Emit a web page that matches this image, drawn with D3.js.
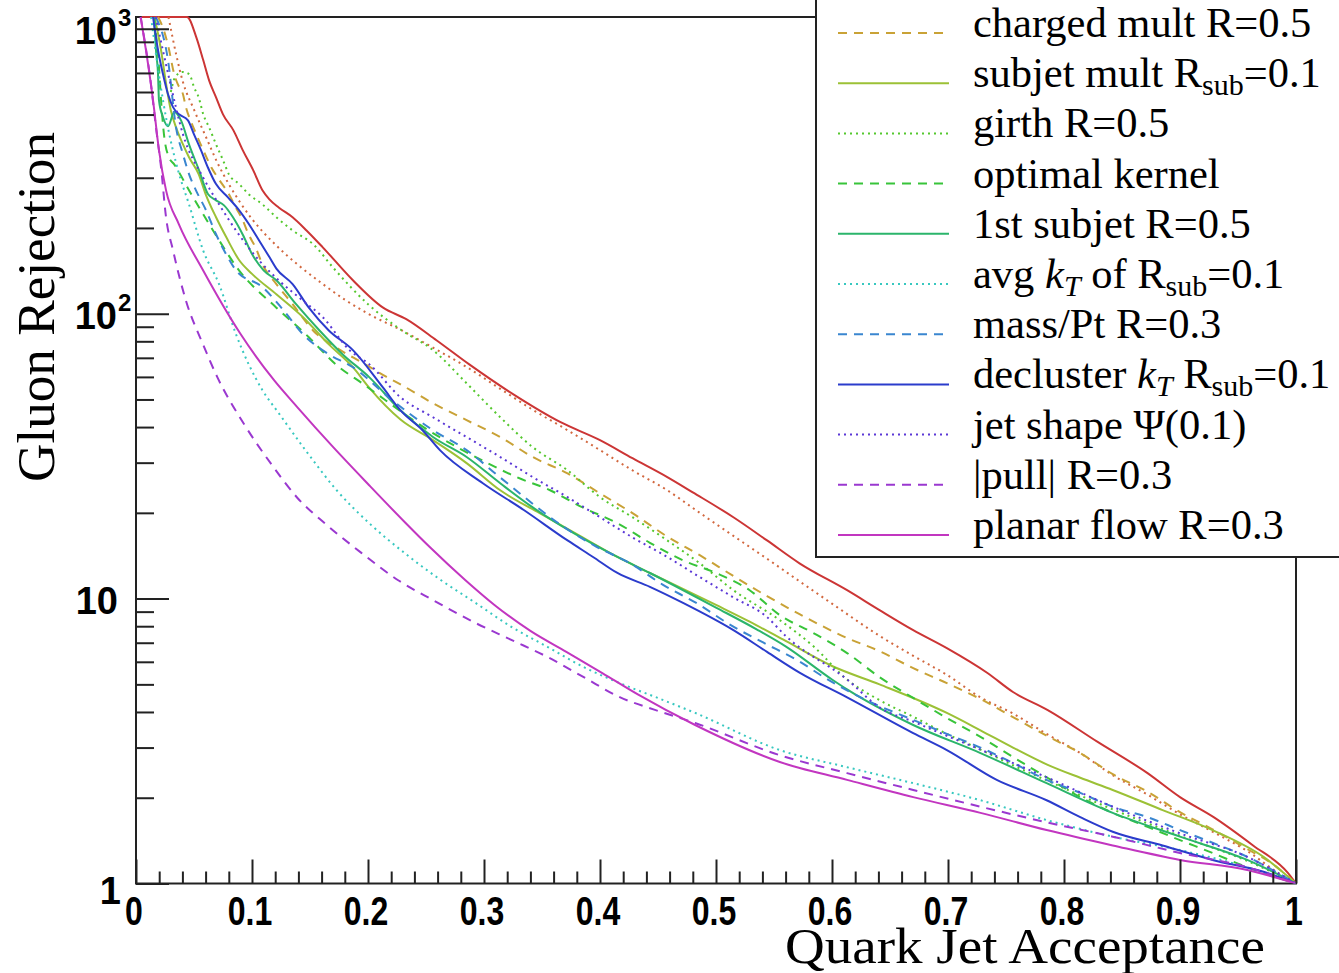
<!DOCTYPE html>
<html><head><meta charset="utf-8">
<script src="https://cdn.jsdelivr.net/npm/d3@7"></script>
<style>body{margin:0;background:#fff;overflow:hidden}</style>
</head><body>
<svg id="c" width="1339" height="973" xmlns="http://www.w3.org/2000/svg"></svg>
<script>
// ---------------- DATA ----------------
const xMajorTicks = [0,0.1,0.2,0.3,0.4,0.5,0.6,0.7,0.8,0.9,1];
const xTickLabels = ["0","0.1","0.2","0.3","0.4","0.5","0.6","0.7","0.8","0.9","1"];
const yMajorTicks = [1,10,100,1000];
const yTickBase = ["1","10","10","10"];
const yTickExp  = ["","","2","3"];
const xTitle = "Quark Jet Acceptance";
const yTitle = "Gluon Rejection";

// [quark acceptance, gluon rejection]
const allVarsRed = [[0.005,1100],[0.044,1100],[0.052,933],[0.058,775],[0.063,659],[0.069,575],[0.075,501],[0.084,440],[0.092,375],[0.101,319],[0.109,271],[0.115,252],[0.123,236],[0.135,218],[0.147,196],[0.161,171],[0.187,131],[0.213,105],[0.233,95.7],[0.259,80.7],[0.287,66.5],[0.325,52.2],[0.366,41.6],[0.4,36],[0.428,31.1],[0.458,26.7],[0.48,23.6],[0.515,19.3],[0.544,16.0],[0.572,13.3],[0.613,10.7],[0.641,9.11],[0.67,7.75],[0.699,6.70],[0.734,5.48],[0.756,4.70],[0.786,4.06],[0.829,3.14],[0.872,2.44],[0.9,2.01],[0.929,1.71],[0.963,1.36],[0.993,1.09],[1,1]];
const combinedDotted = [[0.028,1100],[0.035,800],[0.04,660],[0.05,520],[0.06,420],[0.07,340],[0.08,285],[0.09,245],[0.1,215],[0.12,175],[0.14,148],[0.16,128],[0.18,112],[0.2,100],[0.23,87],[0.256,76],[0.285,65],[0.314,54.5],[0.342,46],[0.372,39],[0.4,33.2],[0.428,28.2],[0.458,24],[0.486,20],[0.515,16.6],[0.544,13.8],[0.572,11.5],[0.6,9.6],[0.641,7.4],[0.67,6.3],[0.699,5.4],[0.728,4.5],[0.756,3.95],[0.785,3.35],[0.814,2.87],[0.842,2.4],[0.872,2.05],[0.9,1.75],[0.928,1.52],[0.958,1.3],[0.986,1.08],[1,1]];
const chargedMult = [[0.019,1100],[0.024,988],[0.028,861],[0.033,692],[0.036,639],[0.0405,589],[0.043,531],[0.047,477],[0.052,426],[0.058,375],[0.065,326],[0.072,294],[0.08,263],[0.086,236],[0.092,213],[0.097,190],[0.103,171],[0.109,149],[0.121,127],[0.135,108],[0.153,87],[0.172,76.3],[0.196,67],[0.216,60],[0.228,56.5],[0.256,48.5],[0.285,42.3],[0.314,36.9],[0.342,31.4],[0.372,27.5],[0.4,23.4],[0.428,19.95],[0.458,16.5],[0.486,14.2],[0.515,12.0],[0.544,10.2],[0.572,8.82],[0.613,7.27],[0.641,6.54],[0.67,5.70],[0.699,5.05],[0.728,4.44],[0.756,3.84],[0.785,3.3],[0.814,2.87],[0.842,2.42],[0.872,2.1],[0.9,1.78],[0.928,1.55],[0.958,1.32],[0.98,1.17],[1,1]];
const subjetMult = [[0.016,1100],[0.0216,841],[0.026,639],[0.03,518],[0.0345,451],[0.0405,393],[0.0457,354],[0.054,309],[0.06,263],[0.069,218],[0.078,185],[0.089,154],[0.1,138],[0.121,117],[0.144,97.2],[0.166,78.2],[0.187,64.9],[0.201,55],[0.228,42.5],[0.256,36],[0.285,29.9],[0.314,24],[0.348,19.95],[0.385,16.4],[0.415,14],[0.443,12.3],[0.5,9.5],[0.529,8.3],[0.56,7.1],[0.6,5.8],[0.641,5.0],[0.699,3.97],[0.728,3.45],[0.756,3.0],[0.785,2.62],[0.814,2.35],[0.842,2.13],[0.885,1.81],[0.928,1.54],[0.972,1.24],[1,1]];
const girth = [[0.03,600],[0.034,680],[0.04,705],[0.044,700],[0.047,680],[0.05,624],[0.054,575],[0.058,501],[0.063,451],[0.069,393],[0.075,346],[0.08,309],[0.089,285],[0.097,263],[0.109,242],[0.121,218],[0.135,196],[0.153,175],[0.17,145],[0.2,108],[0.228,88],[0.256,74.5],[0.285,57],[0.314,43.3],[0.342,34],[0.372,28.2],[0.4,22.7],[0.428,19.3],[0.458,16],[0.486,13.3],[0.515,10.7],[0.555,8.4],[0.584,6.8],[0.613,5.2],[0.641,4.4],[0.67,3.85],[0.699,3.35],[0.728,2.95],[0.756,2.6],[0.785,2.3],[0.842,1.82],[0.9,1.47],[0.958,1.2],[1,1]];
const optimalKernel = [[0.0155,1100],[0.0172,957],[0.0198,733],[0.0216,561],[0.0241,426],[0.0284,354],[0.0328,335],[0.0457,271],[0.0664,196],[0.0888,142],[0.121,105],[0.149,82.7],[0.172,66.5],[0.196,56.6],[0.256,38.1],[0.303,29.9],[0.328,26.7],[0.357,24],[0.385,20.9],[0.415,18.4],[0.443,15.7],[0.472,13.6],[0.5,12.3],[0.529,10.7],[0.555,8.75],[0.584,7.57],[0.613,6.44],[0.641,5.3],[0.67,4.48],[0.699,3.81],[0.728,3.27],[0.756,2.78],[0.785,2.36],[0.814,2.01],[0.842,1.77],[0.872,1.58],[0.9,1.42],[0.928,1.28],[0.958,1.14],[1,1]];
const firstSubjet = [[0.0155,1100],[0.0172,841],[0.019,692],[0.0198,561],[0.0233,489],[0.0276,455],[0.033,510],[0.0388,477],[0.0457,393],[0.0543,319],[0.062,263],[0.069,250],[0.0759,240],[0.0836,218],[0.0922,189],[0.1,162],[0.11,142],[0.121,131],[0.138,108],[0.158,87.5],[0.178,72.1],[0.201,59.9],[0.228,45.8],[0.256,36.9],[0.285,31.4],[0.314,25.4],[0.342,20.9],[0.377,17],[0.415,14],[0.443,12.3],[0.5,9.3],[0.535,7.8],[0.56,6.8],[0.6,5.2],[0.613,4.8],[0.67,3.6],[0.728,2.87],[0.785,2.25],[0.842,1.77],[0.9,1.46],[0.958,1.21],[1,1]];
const avgKt = [[0.013,1100],[0.02,680],[0.027,462],[0.0362,319],[0.0457,242],[0.0578,167],[0.0716,127],[0.0862,84.7],[0.109,53.9],[0.123,44.8],[0.148,32.4],[0.173,24],[0.201,18.4],[0.232,14.4],[0.263,11.6],[0.293,9.64],[0.324,7.94],[0.355,6.76],[0.386,5.75],[0.417,5.05],[0.448,4.51],[0.482,3.97],[0.555,2.94],[0.613,2.56],[0.67,2.25],[0.728,1.96],[0.785,1.67],[0.842,1.46],[0.9,1.31],[0.958,1.14],[1,1]];
const massPt = [[0.017,1100],[0.0276,775],[0.0345,451],[0.0405,363],[0.0457,309],[0.0517,271],[0.0603,231],[0.069,190],[0.0776,162],[0.0862,142],[0.109,124],[0.127,103],[0.144,84.7],[0.166,72.1],[0.187,64.9],[0.22,50],[0.256,39],[0.285,33.2],[0.314,26.6],[0.372,17.5],[0.397,15.2],[0.426,13.3],[0.454,11.2],[0.484,9.6],[0.512,8.1],[0.541,7.0],[0.57,6.08],[0.598,5.15],[0.627,4.45],[0.67,3.75],[0.699,3.35],[0.728,3.0],[0.756,2.65],[0.785,2.31],[0.814,2.08],[0.842,1.86],[0.872,1.71],[0.9,1.54],[0.928,1.39],[0.958,1.24],[1,1]];
const declusterKt = [[0.0147,1100],[0.019,841],[0.0233,692],[0.0276,589],[0.0319,531],[0.0371,501],[0.0448,477],[0.05,426],[0.056,375],[0.062,326],[0.069,285],[0.0793,256],[0.0888,231],[0.0974,206],[0.106,181],[0.115,158],[0.121,144],[0.135,127],[0.149,105],[0.166,87.5],[0.187,74.5],[0.213,55],[0.228,45.8],[0.247,39],[0.262,33.2],[0.299,25.4],[0.334,20.5],[0.372,16],[0.394,14],[0.415,12.3],[0.443,11],[0.472,9.64],[0.515,7.75],[0.544,6.5],[0.572,5.5],[0.613,4.5],[0.67,3.37],[0.699,2.94],[0.742,2.31],[0.785,1.96],[0.814,1.71],[0.842,1.52],[0.885,1.36],[0.928,1.21],[0.972,1.1],[1,1]];
const jetShape = [[0.017,1100],[0.029,659],[0.0405,426],[0.0578,301],[0.0716,242],[0.0862,196],[0.106,154],[0.123,131],[0.144,111],[0.161,97.2],[0.184,74.5],[0.201,66.5],[0.228,50.9],[0.256,43.3],[0.285,36.9],[0.314,31.4],[0.342,26.7],[0.372,22.7],[0.4,19.3],[0.428,16.4],[0.458,14],[0.486,11.9],[0.515,10.1],[0.544,8.61],[0.56,7.4],[0.613,5.2],[0.641,4.15],[0.67,3.7],[0.699,3.3],[0.728,2.95],[0.785,2.36],[0.842,1.86],[0.9,1.5],[0.958,1.24],[1,1]];
const pullMag = [[0.004,1100],[0.0129,639],[0.0172,451],[0.0216,326],[0.0259,218],[0.0319,167],[0.0431,111],[0.0578,78],[0.07,60],[0.0931,41],[0.117,29.5],[0.139,22.6],[0.164,18.2],[0.195,14.4],[0.226,11.6],[0.256,9.88],[0.293,8.2],[0.324,7.15],[0.355,6.23],[0.386,5.3],[0.417,4.51],[0.448,4.06],[0.482,3.66],[0.555,2.82],[0.613,2.44],[0.67,2.13],[0.728,1.86],[0.785,1.64],[0.842,1.46],[0.9,1.28],[0.958,1.14],[1,1]];
const planarFlow = [[0.004,1100],[0.0086,841],[0.0147,561],[0.0198,375],[0.0259,271],[0.037,206],[0.0578,142],[0.09,85],[0.119,58.4],[0.139,47],[0.17,34],[0.201,25],[0.232,18.5],[0.253,15.2],[0.284,11.6],[0.309,9.5],[0.34,7.7],[0.371,6.5],[0.402,5.48],[0.433,4.6],[0.482,3.6],[0.555,2.67],[0.613,2.31],[0.67,2.01],[0.728,1.77],[0.785,1.54],[0.842,1.36],[0.9,1.21],[0.958,1.115],[1,1]];

// legend labels (segments: plain / sub / italic)
const legendLabels = [
  [["charged mult R=0.5"]],
  [["subjet mult R"],["sub","sub"],["=0.1"]],
  [["girth R=0.5"]],
  [["optimal kernel"]],
  [["1st subjet R=0.5"]],
  [["avg "],["k","it"],["T","itsub"],[" of R"],["sub","sub"],["=0.1"]],
  [["mass/Pt R=0.3"]],
  [["decluster "],["k","it"],["T","itsub"],[" R"],["sub","sub"],["=0.1"]],
  [["jet shape \u03A8(0.1)"]],
  [["|pull| R=0.3"]],
  [["planar flow R=0.3"]]
];

// ---------------- STYLES ----------------
const DASH = "9,7", DOT = "2,4";
const series = [
  {data: allVarsRed,     color:"#cc3535", dash:null, legend:-1},
  {data: combinedDotted, color:"#d2683f", dash:DOT,  legend:-1},
  {data: chargedMult,    color:"#c9a236", dash:DASH, legend:0},
  {data: subjetMult,     color:"#9cc136", dash:null, legend:1},
  {data: girth,          color:"#55c82e", dash:DOT,  legend:2},
  {data: optimalKernel,  color:"#38c43a", dash:DASH, legend:3},
  {data: firstSubjet,    color:"#2bb56b", dash:null, legend:4},
  {data: avgKt,          color:"#38c8c0", dash:DOT,  legend:5},
  {data: massPt,         color:"#3a86d0", dash:DASH, legend:6},
  {data: declusterKt,    color:"#2b3ccc", dash:null, legend:7},
  {data: jetShape,       color:"#5b38d6", dash:DOT,  legend:8},
  {data: pullMag,        color:"#9a38d0", dash:DASH, legend:9},
  {data: planarFlow,     color:"#c236c0", dash:null, legend:10}
];

const W=1339, H=973;
const L=136, R=1296, T=17, B=883.5;
const svg = d3.select("#c");
svg.append("rect").attr("width",W).attr("height",H).attr("fill","#fff");

const x = d3.scaleLinear().domain([0,1]).range([L,R]);
const y = d3.scaleLog().domain([1,1100]).range([B,T]);

svg.append("defs").append("clipPath").attr("id","clip")
  .append("rect").attr("x",L).attr("y",T-1.5).attr("width",R-L).attr("height",B-T+1.5);

// frame (drawn under the curves, as in the original)
svg.append("rect").attr("x",L).attr("y",T).attr("width",R-L).attr("height",B-T)
  .attr("fill","none").attr("stroke","#222").attr("stroke-width",2);

// curves
const line = d3.line().x(d=>x(d[0])).y(d=>y(d[1])).curve(d3.curveMonotoneX);
const gCurves = svg.append("g").attr("clip-path","url(#clip)");
series.forEach(s=>{
  gCurves.append("path").attr("d",line(s.data)).attr("fill","none")
    .attr("stroke",s.color).attr("stroke-width",2)
    .attr("stroke-dasharray",s.dash);
});

// x axis ticks (inward)
const xMinor = d3.range(0,1.0001,0.02).filter(v=>Math.abs(v*10-Math.round(v*10))>1e-6);
const xAxMaj = d3.axisTop(x).tickValues(xMajorTicks).tickSize(24).tickFormat("");
const xAxMin = d3.axisTop(x).tickValues(xMinor).tickSize(12).tickFormat("");
[xAxMaj,xAxMin].forEach(ax=>{
  const g=svg.append("g").attr("transform",`translate(0,${B})`).call(ax);
  g.select(".domain").remove();
  g.selectAll("line").attr("stroke","#222").attr("stroke-width",2);
});
// y axis ticks (inward)
const yMinor=[];
[1,10,100].forEach(d=>{for(let k=2;k<=9;k++) yMinor.push(d*k);});
const yAxMaj = d3.axisRight(y).tickValues(yMajorTicks).tickSize(33).tickFormat("");
const yAxMin = d3.axisRight(y).tickValues(yMinor).tickSize(18).tickFormat("");
[yAxMaj,yAxMin].forEach(ax=>{
  const g=svg.append("g").attr("transform",`translate(${L},0)`).call(ax);
  g.select(".domain").remove();
  g.selectAll("line").attr("stroke","#222").attr("stroke-width",2);
});

// x tick labels (narrow, tall bold sans as in the original)
svg.append("g").selectAll("g").data(xMajorTicks).join("g")
  .attr("transform",(d,i)=>`translate(${x(d)-2},${B+41}) scale(0.8,1)`)
  .append("text")
  .attr("text-anchor","middle")
  .attr("font-family","Liberation Sans, Arial, sans-serif")
  .attr("font-weight","bold").attr("font-size",40)
  .attr("fill","#000")
  .text((d,i)=>xTickLabels[i]);

// y tick labels
yMajorTicks.forEach((v,i)=>{
  const t = svg.append("text")
    .attr("font-family","Liberation Sans, Arial, sans-serif")
    .attr("font-weight","bold").attr("font-size",38).attr("fill","#000");
  if(v===1){
    t.attr("x",121).attr("y",y(v)+20).attr("text-anchor","end").text(yTickBase[i]);
  } else if(yTickExp[i]===""){
    t.attr("x",118).attr("y",y(v)+15).attr("text-anchor","end").text(yTickBase[i]);
  } else {
    t.attr("x",117).attr("y",y(v)+15).attr("text-anchor","end").text(yTickBase[i]);
    svg.append("text").attr("x",118).attr("y",y(v)-3)
      .attr("font-family","Liberation Sans, Arial, sans-serif")
      .attr("font-weight","bold").attr("font-size",24).attr("fill","#000")
      .text(yTickExp[i]);
  }
});

// axis titles
svg.append("text").attr("x",1265).attr("y",963).attr("text-anchor","end")
  .attr("font-family","Liberation Serif, Times New Roman, serif").attr("font-size",50)
  .attr("textLength",480).attr("lengthAdjust","spacingAndGlyphs")
  .attr("fill","#000").text(xTitle);
svg.append("text").attr("transform","translate(54,482) rotate(-90)")
  .attr("text-anchor","start")
  .attr("font-family","Liberation Serif, Times New Roman, serif").attr("font-size",52)
  .attr("textLength",350).attr("lengthAdjust","spacingAndGlyphs")
  .attr("fill","#000").text(yTitle);

// legend
const legG = svg.append("g");
legG.append("rect").attr("x",816).attr("y",-30).attr("width",600).attr("height",587)
  .attr("fill","#fff").attr("stroke","#222").attr("stroke-width",2);
const entryY = i => 33 + 50.2*i;
series.filter(s=>s.legend>=0).forEach(s=>{
  const i=s.legend, yy=entryY(i);
  legG.append("line").attr("x1",838).attr("x2",949).attr("y1",yy).attr("y2",yy)
    .attr("stroke",s.color).attr("stroke-width",2).attr("stroke-dasharray",s.dash);
  const t = legG.append("text").attr("x",973).attr("y",yy+4)
    .attr("font-family","Liberation Serif, Times New Roman, serif").attr("font-size",42.5)
    .attr("fill","#000");
  legendLabels[i].forEach(seg=>{
    const sp = t.append("tspan").text(seg[0]);
    if(seg[1]==="sub"){ sp.attr("font-size",30).attr("dy",8); }
    else if(seg[1]==="it"){ sp.attr("font-style","italic"); }
    else if(seg[1]==="itsub"){ sp.attr("font-style","italic").attr("font-size",30).attr("dy",8); }
  });
  const spans = t.selectAll("tspan").nodes();
  for(let k=1;k<spans.length;k++){
    const prev = legendLabels[i][k-1][1], cur = legendLabels[i][k][1];
    const prevSub = prev==="sub"||prev==="itsub", curSub = cur==="sub"||cur==="itsub";
    if(prevSub && !curSub) d3.select(spans[k]).attr("dy",-8);
    if(prevSub && curSub) d3.select(spans[k]).attr("dy",0);
  }
});
</script>
</body></html>
